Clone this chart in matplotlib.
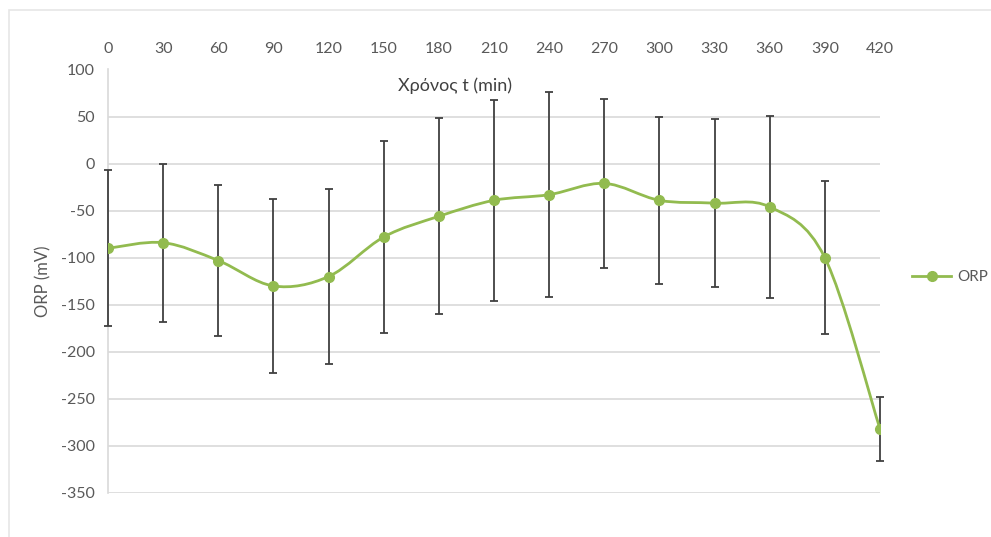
import numpy as np
import matplotlib
matplotlib.use("Agg")
import matplotlib.pyplot as plt
from matplotlib.path import Path
from matplotlib.patches import PathPatch, Rectangle
from matplotlib.lines import Line2D

# data
time_min = [0, 30, 60, 90, 120, 150, 180, 210, 240, 270, 300, 330, 360, 390, 420]
orp_mv = [-90, -84, -103, -130, -120, -78, -56, -39, -33, -21, -39, -42, -46, -100, -282]
orp_err = [83, 84, 80, 92, 93, 102, 104, 107, 109, 90, 89, 89, 97, 81, 34]

GREEN = "#92bb4f"
TEXT = "#595959"
GRID = "#d9d9d9"

plt.rcParams["font.family"] = ["Lato", "DejaVu Sans"]
plt.rcParams["axes.unicode_minus"] = False


def smooth_path(xs, ys):
    # Excel-style smoothed line: cubic Bezier segments with 1/6 tension
    pts = np.column_stack([xs, ys]).astype(float)
    verts = [pts[0]]
    codes = [Path.MOVETO]
    n = len(pts)
    for i in range(n - 1):
        p0 = pts[max(i - 1, 0)]
        p1 = pts[i]
        p2 = pts[i + 1]
        p3 = pts[min(i + 2, n - 1)]
        c1 = p1 + (p2 - p0) / 6.0
        c2 = p2 - (p3 - p1) / 6.0
        verts += [c1, c2, p2]
        codes += [Path.CURVE4] * 3
    return Path(verts, codes)


def main():
    fig = plt.figure(figsize=(9.91, 5.37), dpi=100)
    ax = fig.add_axes([108 / 991, 44 / 537, 772 / 991, 423.5 / 537])

    # chart area border
    fig.patches.append(Rectangle((9 / 991, -0.01), 1.0, 1 - 10 / 537 + 0.01,
                                 transform=fig.transFigure, fill=False,
                                 edgecolor="#e6e6e6", linewidth=1.2))

    ax.errorbar(time_min, orp_mv, yerr=orp_err, fmt="none", ecolor="#404040",
                elinewidth=1.3, capsize=3, capthick=1.3, zorder=2.7, clip_on=False)
    ax.add_patch(PathPatch(smooth_path(time_min, orp_mv), facecolor="none",
                           edgecolor=GREEN, linewidth=2.0, zorder=3))
    ax.plot(time_min, orp_mv, linestyle="none", marker="o", markersize=7,
            color=GREEN, zorder=4)

    ax.set_xlim(0, 420)
    ax.set_ylim(-350, 100)
    ax.set_xticks(time_min)
    ax.set_yticks(np.arange(-350, 101, 50))
    ax.xaxis.tick_top()
    ax.tick_params(axis="both", length=0, colors=TEXT, labelsize=11.5)
    ax.tick_params(axis="x", pad=10)
    ax.tick_params(axis="y", pad=9.5)
    ax.grid(axis="y", color=GRID, linewidth=1.2)
    ax.set_axisbelow(True)
    for side in ["top", "right", "bottom"]:
        ax.spines[side].set_visible(False)
    ax.spines["left"].set_color(GRID)
    ax.spines["left"].set_linewidth(1.2)

    ax.set_ylabel("ORP (mV)", color=TEXT, fontsize=12, labelpad=7)
    fig.text(455 / 991, 1 - 86 / 537, "Χρόνος t (min)", ha="center", va="center",
             fontsize=13, color="#404040")

    handle = Line2D([], [], color=GREEN, linewidth=2.0, marker="o", markersize=7)
    fig.legend([handle], ["ORP"], loc="center left",
               bbox_to_anchor=(898 / 991, 1 - 277 / 537), frameon=False,
               fontsize=11, labelcolor=TEXT, handlelength=2.6, handletextpad=0.4)

    plt.savefig("out.png", dpi=100)


if __name__ == "__main__":
    main()
